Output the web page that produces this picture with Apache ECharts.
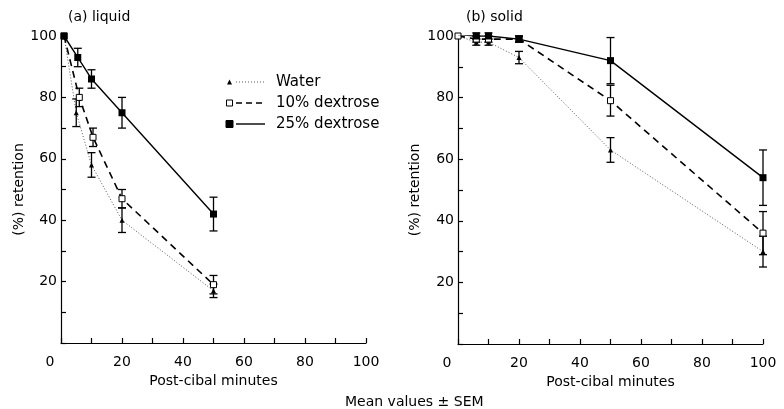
<!DOCTYPE html>
<html>
<head>
<meta charset="utf-8">
<script src="https://cdn.jsdelivr.net/npm/echarts@6/dist/echarts.min.js"></script>
<style>
  html, body { margin: 0; padding: 0; background: #fff; }
  #chart { width: 784px; height: 409px; }
</style>
</head>
<body>
<div id="chart"></div>
<script>
// (a) liquid
const liqTimeWater = [1, 5, 10, 20, 50];
const liqTimeD10 = [1, 6, 10.5, 20, 50];
const liqTimeD25 = [1, 5.5, 10, 20, 50];
const liqWater = [100, 75, 58, 40, 17];
const liqWaterErr = [0, 4.5, 4, 4, 2.2];
const liqD10 = [100, 80, 67, 47, 19];
const liqD10Err = [0, 3, 3, 3, 3];
const liqD25 = [100, 93, 86, 75, 42];
const liqD25Err = [0, 3, 3, 5, 5.5];

// (b) solid
const solTime = [0, 6, 10, 20, 50, 100];
const solWater = [100, 98, 98, 93, 63, 30];
const solWaterErr = [0, 1, 1, 2, 4, 5];
const solD10 = [100, 99, 99, 99, 79, 36];
const solD10Err = [0, 1, 1, 1, 5, 7];
const solD25 = [100.5, 100, 100, 99, 92, 54];
const solD25Err = [0, 1, 1, 1, 7.5, 9];

const xTicks = [0, 20, 40, 60, 80, 100];
const yTicks = [20, 40, 60, 80, 100];
const legendNames = ['Water', '10% dextrose', '25% dextrose'];

const FONT = 'DejaVu Sans';
const chart = echarts.init(document.getElementById('chart'));

const pairs = (xs, ys) => xs.map((x, i) => [x, ys[i]]);
const errRows = (xs, ys, es) => xs.map((x, i) => [x, ys[i] - es[i], ys[i] + es[i]]).filter((r, i) => es[i] > 0);

const errorBars = (idx, xs, ys, es) => ({
  type: 'custom',
  xAxisIndex: idx,
  yAxisIndex: idx,
  silent: true,
  z: 1,
  data: errRows(xs, ys, es),
  renderItem: (params, api) => {
    const lo = api.coord([api.value(0), api.value(1)]);
    const hi = api.coord([api.value(0), api.value(2)]);
    const w = 4;
    const st = { stroke: '#000', lineWidth: 1.3 };
    return {
      type: 'group',
      children: [
        { type: 'line', shape: { x1: lo[0], y1: lo[1], x2: hi[0], y2: hi[1] }, style: st },
        { type: 'line', shape: { x1: lo[0] - w, y1: lo[1], x2: lo[0] + w, y2: lo[1] }, style: st },
        { type: 'line', shape: { x1: hi[0] - w, y1: hi[1], x2: hi[0] + w, y2: hi[1] }, style: st }
      ]
    };
  }
});

const styles = [
  { symbol: 'triangle', symbolSize: 5, line: { type: [1, 2], width: 0.9, color: '#444' }, item: { color: '#000' } },
  { symbol: 'rect', symbolSize: 6, line: { type: [7, 5], width: 1.6, color: '#000' }, item: { color: '#fff', borderColor: '#000', borderWidth: 1 } },
  { symbol: 'rect', symbolSize: 7, line: { type: 'solid', width: 1.4, color: '#000' }, item: { color: '#000' } }
];

const lineSeries = (idx, k, xs, ys) => ({
  type: 'line',
  xAxisIndex: idx,
  yAxisIndex: idx,
  data: pairs(xs, ys),
  symbol: styles[k].symbol,
  symbolSize: styles[k].symbolSize,
  lineStyle: styles[k].line,
  itemStyle: styles[k].item,
  z: 2 + k,
  animation: false
});

const xAxis = (idx) => ({
  type: 'value',
  gridIndex: idx,
  min: 0,
  max: 100,
  interval: 10,
  name: 'Post-cibal minutes',
  nameLocation: 'middle',
  nameGap: 30,
  nameTextStyle: { fontFamily: FONT, fontSize: 14, color: '#000' },
  axisLine: { lineStyle: { color: '#000', width: 1.2 } },
  axisTick: { inside: true, length: 5, lineStyle: { color: '#000', width: 1.2 } },
  axisLabel: {
    fontFamily: FONT, fontSize: 14, color: '#000', margin: 12,
    formatter: (v) => (v === 0 ? '{z|0}' : xTicks.includes(v) ? String(v) : ''),
    rich: { z: { fontFamily: FONT, fontSize: 14, color: '#000', padding: [0, 22, 0, 0] } }
  },
  splitLine: { show: false }
});

const yAxis = (idx) => ({
  type: 'value',
  gridIndex: idx,
  min: 0,
  max: 100,
  interval: 10,
  name: '(%) retention',
  nameLocation: 'middle',
  nameGap: idx === 0 ? 33 : 36,
  nameTextStyle: { fontFamily: FONT, fontSize: 14, color: '#000' },
  axisLine: { show: true, lineStyle: { color: '#000', width: 1.2 } },
  axisTick: { inside: true, length: 5, lineStyle: { color: '#000', width: 1.2 } },
  axisLabel: {
    fontFamily: FONT, fontSize: 14, color: '#000', margin: 4,
    formatter: (v) => (yTicks.includes(v) ? String(v) : '')
  },
  splitLine: { show: false }
});

// legend drawn as small sample + line + text
const legendGraphic = legendNames.map((name, k) => {
  const y = 82 + k * 21;
  const s = styles[k];
  const marker = s.symbol === 'triangle'
    ? { type: 'polygon', shape: { points: [[227, y + 2.5], [232, y + 2.5], [229.5, y - 2.5]] }, style: { fill: '#000' } }
    : { type: 'rect', shape: { x: 229.5 - s.symbolSize / 2, y: y - s.symbolSize / 2, width: s.symbolSize, height: s.symbolSize },
        style: { fill: s.item.color, stroke: '#000', lineWidth: 1 } };
  return {
    type: 'group',
    children: [
      marker,
      { type: 'line', shape: { x1: 236, y1: y, x2: 265, y2: y },
        style: { stroke: s.line.color, lineWidth: s.line.width, lineDash: s.line.type === 'solid' ? null : (k === 1 ? [6, 4] : s.line.type) } },
      { type: 'text', x: 276, y: y, style: { text: name, fontFamily: FONT, fontSize: 15, fill: '#000', verticalAlign: 'middle' } }
    ]
  };
});

chart.setOption({
  backgroundColor: '#fff',
  animation: false,
  title: [
    { text: '(a) liquid', left: 63, top: 5, textStyle: { fontFamily: FONT, fontSize: 14, fontWeight: 'normal', color: '#000' } },
    { text: '(b) solid', left: 461, top: 5, textStyle: { fontFamily: FONT, fontSize: 14, fontWeight: 'normal', color: '#000' } },
    { text: 'Mean values ± SEM', left: 340, top: 390, textStyle: { fontFamily: FONT, fontSize: 14, fontWeight: 'normal', color: '#000' } }
  ],
  grid: [
    { left: 61, right: 418, top: 36, bottom: 66, outerBoundsMode: 'none' },
    { left: 458, right: 21, top: 36, bottom: 65, outerBoundsMode: 'none' }
  ],
  xAxis: [xAxis(0), xAxis(1)],
  yAxis: [yAxis(0), yAxis(1)],
  graphic: legendGraphic,
  series: [
    errorBars(0, liqTimeWater, liqWater, liqWaterErr),
    errorBars(0, liqTimeD10, liqD10, liqD10Err),
    errorBars(0, liqTimeD25, liqD25, liqD25Err),
    lineSeries(0, 0, liqTimeWater, liqWater),
    lineSeries(0, 1, liqTimeD10, liqD10),
    lineSeries(0, 2, liqTimeD25, liqD25),
    errorBars(1, solTime, solWater, solWaterErr),
    errorBars(1, solTime, solD10, solD10Err),
    errorBars(1, solTime, solD25, solD25Err),
    lineSeries(1, 0, solTime, solWater),
    lineSeries(1, 1, solTime, solD10),
    lineSeries(1, 2, solTime, solD25)
  ]
});

window.addEventListener('resize', () => chart.resize());
</script>
</body>
</html>
